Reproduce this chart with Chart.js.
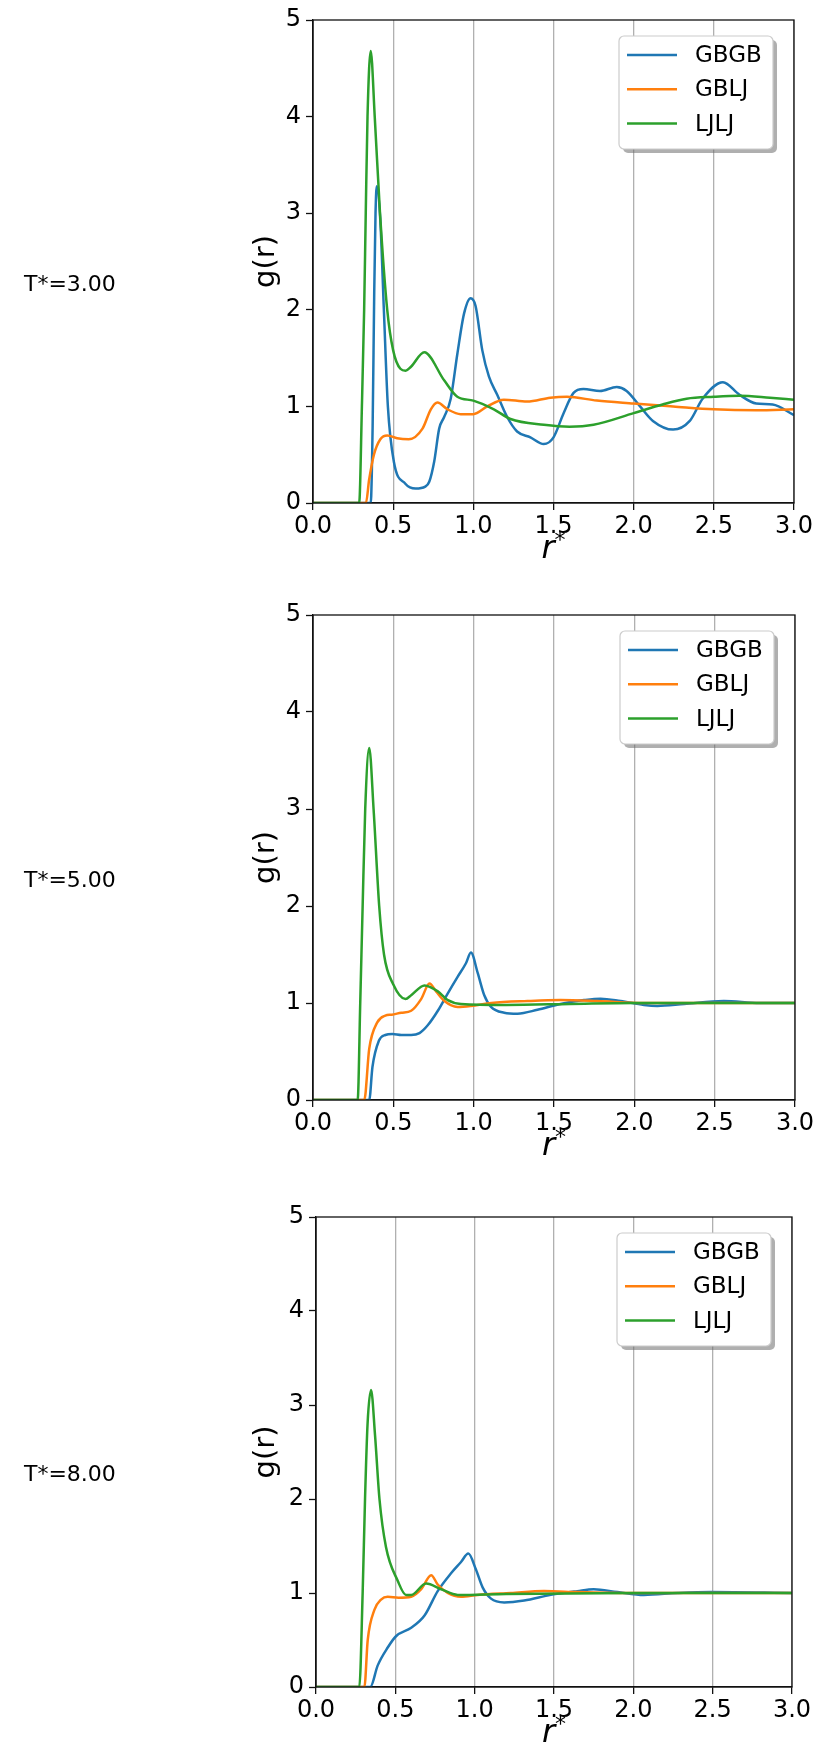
<!DOCTYPE html>
<html>
<head>
<meta charset="utf-8">
<script src="https://cdn.jsdelivr.net/npm/chart.js@4.4.1/dist/chart.umd.min.js"></script>
<style>
  body { margin: 0; background: #fff; }
  #wrap { position: relative; width: 820px; height: 1763px; }
  canvas { position: absolute; left: 0; }
</style>
</head>
<body>
<div id="wrap">
  <canvas id="gr3" width="820" height="10"></canvas>
  <canvas id="gr5" width="820" height="10"></canvas>
  <canvas id="gr8" width="820" height="10"></canvas>
</div>
<script>
// tick labels / categories
var seriesNames = ['GBGB', 'GBLJ', 'LJLJ'];
var tempLabels = ['T*=3.00', 'T*=5.00', 'T*=8.00'];
var xTicks = [0, 0.5, 1.0, 1.5, 2.0, 2.5, 3.0];
var yTicks = [0, 1, 2, 3, 4, 5];

// T* = 3.00
var t3_gbgb_r = [0, 0.36, 0.372, 0.382, 0.390, 0.398, 0.42, 0.442, 0.467, 0.504, 0.576, 0.64, 0.70, 0.725, 0.756, 0.787, 0.818, 0.859, 0.90, 0.942, 0.983, 1.014, 1.056, 1.097, 1.149, 1.211, 1.273, 1.356, 1.439, 1.5, 1.563, 1.625, 1.687, 1.79, 1.894, 1.956, 2.04, 2.12, 2.246, 2.35, 2.43, 2.557, 2.66, 2.764, 2.867, 3.0];
var t3_gbgb_g = [0, 0, 0.8, 2.2, 3.0, 3.28, 2.92, 2.0, 1.0, 0.43, 0.2, 0.15, 0.17, 0.22, 0.43, 0.77, 0.89, 1.08, 1.54, 1.96, 2.12, 2.04, 1.58, 1.31, 1.12, 0.89, 0.74, 0.68, 0.61, 0.68, 0.93, 1.14, 1.18, 1.16, 1.20, 1.16, 1.00, 0.85, 0.76, 0.85, 1.08, 1.25, 1.12, 1.03, 1.02, 0.91];
var t3_gblj_r = [0, 0.33, 0.35, 0.38, 0.42, 0.463, 0.525, 0.597, 0.683, 0.735, 0.776, 0.839, 0.921, 1.0, 1.087, 1.19, 1.335, 1.48, 1.584, 1.77, 2.0, 2.246, 2.5, 2.764, 3.0];
var t3_gblj_g = [0, 0, 0.24, 0.5, 0.66, 0.70, 0.67, 0.66, 0.77, 0.97, 1.04, 0.97, 0.92, 0.92, 1.0, 1.07, 1.05, 1.09, 1.10, 1.06, 1.03, 1.0, 0.97, 0.96, 0.97];
var t3_ljlj_r = [0, 0.288, 0.305, 0.319, 0.329, 0.34, 0.36, 0.385, 0.418, 0.463, 0.50, 0.545, 0.578, 0.611, 0.694, 0.818, 0.90, 1.0, 1.128, 1.232, 1.44, 1.60, 1.75, 2.0, 2.18, 2.33, 2.5, 2.66, 2.85, 3.0];
var t3_ljlj_g = [0, 0, 1.0, 2.0, 3.0, 4.0, 4.68, 4.0, 3.0, 2.0, 1.58, 1.39, 1.37, 1.41, 1.56, 1.27, 1.10, 1.06, 0.97, 0.87, 0.81, 0.79, 0.81, 0.93, 1.02, 1.08, 1.10, 1.11, 1.09, 1.07];

// T* = 5.00
var t5_gbgb_r = [0, 0.35, 0.37, 0.41, 0.45, 0.494, 0.55, 0.611, 0.663, 0.714, 0.777, 0.839, 0.90, 0.952, 0.983, 1.025, 1.066, 1.108, 1.19, 1.273, 1.397, 1.54, 1.687, 1.79, 1.915, 2.06, 2.143, 2.31, 2.557, 2.78, 3.0];
var t5_gbgb_g = [0, 0, 0.34, 0.61, 0.67, 0.68, 0.67, 0.67, 0.69, 0.77, 0.92, 1.10, 1.27, 1.41, 1.52, 1.31, 1.08, 0.96, 0.90, 0.89, 0.93, 0.99, 1.03, 1.045, 1.02, 0.98, 0.97, 0.99, 1.02, 1.0, 1.0];
var t5_gblj_r = [0, 0.319, 0.35, 0.40, 0.45, 0.49, 0.55, 0.611, 0.673, 0.725, 0.766, 0.818, 0.90, 0.983, 1.11, 1.335, 1.54, 1.77, 2.06, 2.5, 3.0];
var t5_gblj_g = [0, 0, 0.53, 0.80, 0.87, 0.88, 0.90, 0.92, 1.04, 1.20, 1.12, 1.02, 0.96, 0.97, 1.0, 1.02, 1.03, 1.02, 1.0, 1.0, 1.0];
var t5_ljlj_r = [0, 0.278, 0.294, 0.309, 0.325, 0.35, 0.377, 0.412, 0.442, 0.50, 0.576, 0.611, 0.694, 0.777, 0.839, 0.921, 1.2, 1.6, 2.0, 2.5, 3.0];
var t5_ljlj_g = [0, 0, 1.0, 2.0, 3.0, 3.63, 3.0, 2.0, 1.5, 1.19, 1.04, 1.08, 1.18, 1.12, 1.03, 0.99, 0.98, 0.99, 1.0, 1.0, 1.0];

// T* = 8.00
var t8_gbgb_r = [0, 0.342, 0.389, 0.452, 0.504, 0.60, 0.684, 0.767, 0.851, 0.914, 0.96, 1.008, 1.05, 1.103, 1.186, 1.312, 1.48, 1.647, 1.75, 1.90, 2.067, 2.28, 2.49, 3.0];
var t8_gbgb_g = [0, 0, 0.23, 0.42, 0.54, 0.63, 0.76, 1.02, 1.21, 1.33, 1.42, 1.25, 1.06, 0.94, 0.90, 0.92, 0.98, 1.02, 1.04, 1.01, 0.98, 1.0, 1.01, 1.0];
var t8_gblj_r = [0, 0.305, 0.326, 0.368, 0.41, 0.452, 0.52, 0.60, 0.663, 0.726, 0.767, 0.83, 0.914, 1.019, 1.228, 1.437, 1.647, 2.0, 3.0];
var t8_gblj_g = [0, 0, 0.5, 0.82, 0.93, 0.96, 0.95, 0.96, 1.04, 1.19, 1.09, 1.0, 0.96, 0.98, 1.0, 1.02, 1.01, 1.0, 1.0];
var t8_ljlj_r = [0, 0.273, 0.294, 0.309, 0.325, 0.347, 0.372, 0.40, 0.441, 0.515, 0.567, 0.60, 0.694, 0.789, 0.893, 1.2, 2.0, 3.0];
var t8_ljlj_g = [0, 0, 1.0, 2.0, 2.8, 3.16, 2.68, 2.0, 1.49, 1.13, 0.98, 0.98, 1.10, 1.04, 0.98, 0.99, 1.0, 1.0];

var colors = ['#1f77b4', '#ff7f0e', '#2ca02c'];

// plot boxes on the page
var boxes = [
    { id: 'gr3', left: 313, right: 794, top: 20, bottom: 503 },
    { id: 'gr5', left: 313, right: 795, top: 615, bottom: 1100 },
    { id: 'gr8', left: 316, right: 792, top: 1217, bottom: 1687 }
];
var panelData = [
    [[t3_gbgb_r, t3_gbgb_g], [t3_gblj_r, t3_gblj_g], [t3_ljlj_r, t3_ljlj_g]],
    [[t5_gbgb_r, t5_gbgb_g], [t5_gblj_r, t5_gblj_g], [t5_ljlj_r, t5_ljlj_g]],
    [[t8_gbgb_r, t8_gbgb_g], [t8_gblj_r, t8_gblj_g], [t8_ljlj_r, t8_ljlj_g]]
];

var FONT = '"DejaVu Sans", sans-serif';
var PAD_TOP = 24, XAXIS_H = 75;

function toPoints(r, g) {
    return r.map(function (v, i) { return { x: v, y: g[i] }; });
}

var decor = {
    id: 'decor',
    afterDraw: function (chart, args, opts) {
        var ctx = chart.ctx, ca = chart.chartArea;
        var h = ca.bottom - ca.top;
        ctx.save();
        // spines
        ctx.strokeStyle = '#111';
        ctx.lineWidth = 1.3;
        ctx.strokeRect(ca.left, ca.top, ca.right - ca.left, h);

        // legend
        var bx = ca.right - 175, by = ca.top + 16, bw = 154, bh = 113;
        ctx.fillStyle = 'rgba(110,110,110,0.55)';
        ctx.beginPath();
        ctx.roundRect(bx + 4, by + 4, bw, bh, 5);
        ctx.fill();
        ctx.fillStyle = '#fff';
        ctx.strokeStyle = '#cccccc';
        ctx.lineWidth = 1.2;
        ctx.beginPath();
        ctx.roundRect(bx, by, bw, bh, 5);
        ctx.fill();
        ctx.stroke();
        ctx.font = '23px ' + FONT;
        ctx.textBaseline = 'middle';
        ctx.textAlign = 'left';
        seriesNames.forEach(function (name, i) {
            var y = by + 19 + i * 34.3;
            ctx.strokeStyle = colors[i];
            ctx.lineWidth = 2.5;
            ctx.beginPath();
            ctx.moveTo(bx + 8, y);
            ctx.lineTo(bx + 58, y);
            ctx.stroke();
            ctx.fillStyle = '#000';
            ctx.fillText(name, bx + 76, y + 1);
        });

        // temperature label
        ctx.fillStyle = '#000';
        ctx.font = '22px ' + FONT;
        ctx.fillText(opts.tempLabel, 24, ca.top + 0.55 * h);

        // y title
        ctx.save();
        ctx.translate(266, ca.top + 0.5 * h);
        ctx.rotate(-Math.PI / 2);
        ctx.textAlign = 'center';
        ctx.font = '29px ' + FONT;
        ctx.fillText('g(r)', 0, 0);
        ctx.restore();

        // x title r*
        var cx = (ca.left + ca.right) / 2;
        ctx.font = 'italic 32px ' + FONT;
        var wr = ctx.measureText('r').width;
        ctx.font = '22px ' + FONT;
        var ws = ctx.measureText('*').width;
        var x0 = cx - (wr + ws) / 2;
        ctx.textBaseline = 'alphabetic';
        ctx.font = 'italic 32px ' + FONT;
        ctx.fillText('r', x0, ca.bottom + 55);
        ctx.font = '22px ' + FONT;
        ctx.fillText('*', x0 + wr, ca.bottom + 44);
        ctx.restore();
    }
};

boxes.forEach(function (b, p) {
    var canvas = document.getElementById(b.id);
    var plotH = b.bottom - b.top;
    canvas.height = PAD_TOP + plotH + XAXIS_H;
    canvas.style.top = (b.top - PAD_TOP) + 'px';

    var datasets = panelData[p].map(function (s, i) {
        return {
            label: seriesNames[i],
            data: toPoints(s[0], s[1]),
            borderColor: colors[i],
            backgroundColor: colors[i],
            borderWidth: 2.5,
            pointRadius: 0,
            fill: false,
            cubicInterpolationMode: 'monotone',
            order: 3 - i
        };
    });

    new Chart(canvas.getContext('2d'), {
        type: 'line',
        data: { datasets: datasets },
        plugins: [decor],
        options: {
            responsive: false,
            animation: false,
            events: [],
            layout: {
                padding: { top: PAD_TOP, right: 820 - b.right, left: 0, bottom: 0 }
            },
            scales: {
                x: {
                    type: 'linear',
                    min: 0,
                    max: 3,
                    afterFit: function (s) { s.height = XAXIS_H; },
                    afterBuildTicks: function (s) {
                        s.ticks = xTicks.map(function (v) { return { value: v }; });
                    },
                    grid: {
                        color: '#b0b0b0',
                        lineWidth: 1.3,
                        drawTicks: true,
                        tickLength: 7,
                        tickColor: '#111',
                        tickWidth: 1.3
                    },
                    border: { display: true, color: '#111', width: 1.3 },
                    ticks: {
                        color: '#000',
                        padding: 2,
                        maxRotation: 0,
                        font: { family: FONT, size: 24 },
                        callback: function (v) { return Number(v).toFixed(1); }
                    }
                },
                y: {
                    min: 0,
                    max: 5,
                    afterFit: function (s) { s.width = b.left; },
                    afterBuildTicks: function (s) {
                        s.ticks = yTicks.map(function (v) { return { value: v }; });
                    },
                    grid: {
                        drawOnChartArea: false,
                        drawTicks: true,
                        tickLength: 7,
                        tickColor: '#111',
                        tickWidth: 1.3
                    },
                    border: { display: true, color: '#111', width: 1.3 },
                    ticks: {
                        color: '#000',
                        padding: 5,
                        font: { family: FONT, size: 24 },
                        callback: function (v) { return String(v); }
                    }
                }
            },
            plugins: {
                legend: { display: false },
                tooltip: { enabled: false },
                decor: { tempLabel: tempLabels[p] }
            }
        }
    });
});
</script>
</body>
</html>
